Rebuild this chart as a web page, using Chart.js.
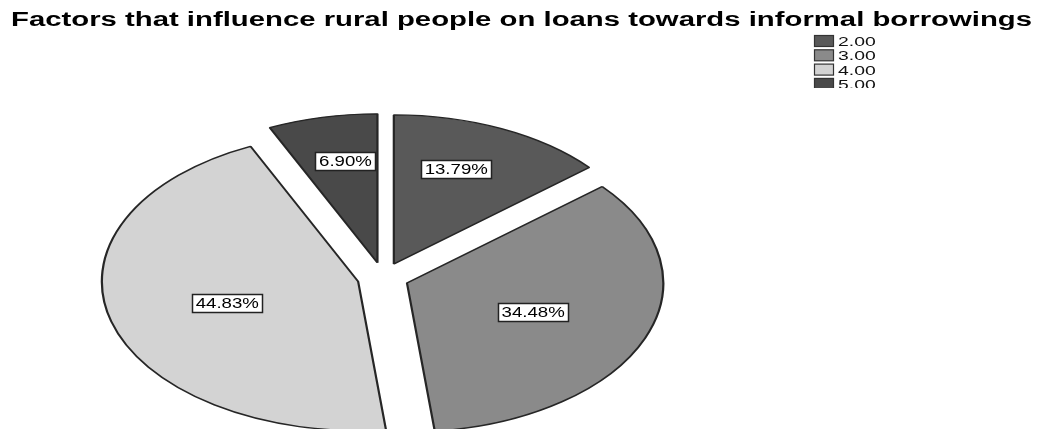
<!DOCTYPE html>
<html>
<head>
<meta charset="utf-8">
<script src="https://cdn.jsdelivr.net/npm/chart.js@4/dist/chart.umd.min.js"></script>
<style>
  html, body { margin: 0; background: #fff; }
  canvas { display: block; }
</style>
</head>
<body>
<canvas id="grafico" width="1041" height="429"></canvas>
<script>
const titulo = 'Factors that influence rural people on loans towards informal borrowings';
const categorias = ['2.00', '3.00', '4.00', '5.00'];
const percentuais = [13.79, 34.48, 44.83, 6.90];
const cores = ['#595959', '#8a8a8a', '#d3d3d3', '#494949'];

const SX = 1.72;      // the pie is an ellipse, wider than tall
const OFFSET = 15;    // how far each slice is pulled out
const FONT = '"Liberation Sans", Arial, sans-serif';

// draws every slice pulled out and stretched, then the % boxes
const fatiasExplodidas = {
  id: 'fatiasExplodidas',
  beforeDatasetsDraw(chart) {
    const ctx = chart.ctx;
    const meta = chart.getDatasetMeta(0);
    meta.data.forEach(arc => {
      const {x, y, startAngle, endAngle} = arc.getProps(['x', 'y', 'startAngle', 'endAngle']);
      const meio = (startAngle + endAngle) / 2;
      ctx.save();
      ctx.translate(x + Math.cos(meio) * OFFSET * SX, y + Math.sin(meio) * OFFSET);
      ctx.scale(SX, 1);
      ctx.translate(-x, -y);
      arc.draw(ctx);
      ctx.restore();
    });

    meta.data.forEach((arc, i) => {
      const {x, y, startAngle, endAngle, outerRadius} =
        arc.getProps(['x', 'y', 'startAngle', 'endAngle', 'outerRadius']);
      const meio = (startAngle + endAngle) / 2;
      // narrow slices get their label further out and nearer the middle line
      const pequena = percentuais[i] < 20;
      const r = outerRadius * (pequena ? 0.7 : 0.53) + OFFSET;
      const px = x + Math.cos(meio) * r * SX * (pequena ? 0.85 : 1);
      const py = y + Math.sin(meio) * r;
      const texto = percentuais[i].toFixed(2) + '%';
      ctx.save();
      ctx.font = '14px ' + FONT;
      const esticar = 1.33;
      const w = Math.round(ctx.measureText(texto).width * esticar + 7);
      const h = 18;
      const bx = Math.round(px - w / 2) + 0.5, by = Math.round(py - h / 2) + 0.5;
      ctx.fillStyle = '#fff';
      ctx.fillRect(bx, by, w, h);
      ctx.strokeStyle = '#222';
      ctx.lineWidth = 1.5;
      ctx.strokeRect(bx, by, w, h);
      ctx.translate(px, py + 1);
      ctx.scale(esticar, 1);
      ctx.fillStyle = '#000';
      ctx.textAlign = 'center';
      ctx.textBaseline = 'middle';
      ctx.fillText(texto, 0, 0);
      ctx.restore();
    });
    return false;
  },
  afterDraw(chart) {
    const ctx = chart.ctx;
    // title, stretched across the top
    ctx.save();
    ctx.font = 'bold 19.5px ' + FONT;
    const wt = ctx.measureText(titulo).width;
    ctx.translate(11, 26);
    ctx.scale(1021 / wt, 1);
    ctx.fillStyle = '#000';
    ctx.textBaseline = 'alphabetic';
    ctx.fillText(titulo, 0, 0);
    ctx.restore();

    // legend top right (last row is cut in the original)
    ctx.save();
    ctx.beginPath();
    ctx.rect(0, 0, chart.width, 88);
    ctx.clip();
    categorias.forEach((c, i) => {
      const top = 35 + i * 14.3;
      ctx.fillStyle = cores[i];
      ctx.fillRect(814.5, top + 0.5, 19, 11);
      ctx.strokeStyle = '#333';
      ctx.lineWidth = 1.2;
      ctx.strokeRect(814.5, top + 0.5, 19, 11);
      ctx.save();
      ctx.font = '12.5px ' + FONT;
      ctx.translate(838, top + 11);
      ctx.scale(1.55, 1);
      ctx.fillStyle = '#111';
      ctx.fillText(c, 0, 0);
      ctx.restore();
    });
    ctx.restore();
  }
};

const ctx = document.getElementById('grafico');

let grafico = new Chart(ctx, {
  type: 'pie',
  data: {
    labels: categorias,
    datasets: [{
      data: percentuais,
      backgroundColor: cores,
      borderColor: '#262626',
      borderWidth: 1.3
    }]
  },
  options: {
    responsive: false,
    animation: false,
    radius: 149,
    layout: {
      padding: { top: 126, right: 275, bottom: 0, left: 0 }
    },
    plugins: {
      legend: { display: false },
      title: { display: false },
      tooltip: { enabled: false }
    }
  },
  plugins: [fatiasExplodidas]
});
</script>
</body>
</html>
